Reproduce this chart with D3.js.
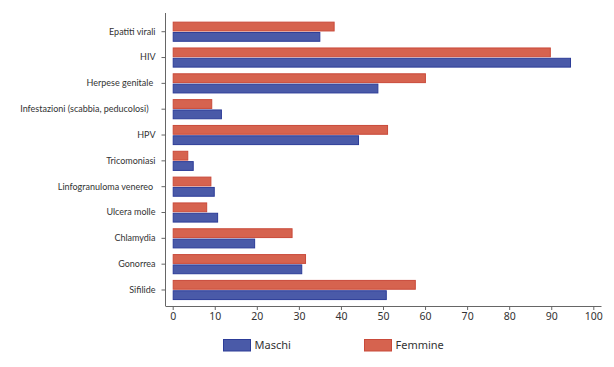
<!DOCTYPE html>
<html>
<head>
<meta charset="utf-8">
<script src="https://cdn.jsdelivr.net/npm/d3@7"></script>
<style>
  body { margin: 0; background: #fff; }
  svg text { font-family: "Noto Sans", sans-serif; fill: #333; }
</style>
</head>
<body>
<div id="chart"></div>
<script>
// Data
const categories = [
  "Epatiti virali",
  "HIV",
  "Herpese genitale\u00a0",
  "Infestazioni (scabbia, peducolosi)\u00a0\u00a0\u00a0",
  "HPV",
  "Tricomoniasi",
  "Linfogranuloma venereo\u00a0",
  "Ulcera molle",
  "Chlamydia",
  "Gonorrea",
  "Sifilide"
];
const maschi = [35.1, 94.7, 48.9, 11.7, 44.3, 5.0, 10.0, 10.8, 19.6, 30.8, 50.9];
const femmine = [38.5, 89.9, 60.2, 9.4, 51.2, 3.7, 9.2, 8.2, 28.5, 31.7, 57.8];
const xTicks = [0, 10, 20, 30, 40, 50, 60, 70, 80, 90, 100];
const seriesNames = ["Femmine", "Maschi"];

const width = 614;
const height = 367;

const colors = {
  Maschi: { fill: "#4a5aa8", stroke: "#2c3c98" },
  Femmine: { fill: "#d6634f", stroke: "#c94a3a" }
};

const svg = d3.select("#chart").append("svg")
  .attr("width", width)
  .attr("height", height);

// Scales
const xScale = d3.scaleLinear().domain([0, 100]).range([172.7, 593.3]);

const yScale = d3.scaleBand()
  .domain(categories)
  .range([18.8, 302.9])
  .paddingInner(0.22)
  .paddingOuter(0.11);

const subScale = d3.scaleBand()
  .domain(seriesNames)
  .range([0, yScale.bandwidth()])
  .paddingInner(0.05);

const rows = categories.map((c, i) => ({ cat: c, Maschi: maschi[i], Femmine: femmine[i] }));

// Bars
const groups = svg.selectAll("g.row")
  .data(rows)
  .enter()
  .append("g")
  .attr("class", "row")
  .attr("transform", (d) => `translate(0,${yScale(d.cat)})`);

groups.selectAll("rect")
  .data((d) => seriesNames.map((s) => ({ s, v: d[s] })))
  .enter()
  .append("rect")
  .attr("x", xScale(0) + 0.5)
  .attr("y", (d) => subScale(d.s) + 0.5)
  .attr("width", (d) => xScale(d.v) - xScale(0) - 1)
  .attr("height", subScale.bandwidth() - 1)
  .attr("fill", (d) => colors[d.s].fill)
  .attr("stroke", (d) => colors[d.s].stroke)
  .attr("stroke-width", 1);

// X axis
const xAxis = svg.append("g")
  .attr("transform", "translate(0,306)")
  .call(d3.axisBottom(xScale).tickValues(xTicks).tickSize(4).tickSizeOuter(0));
xAxis.select(".domain").attr("d", "M165.5,0.5H601.5");
xAxis.selectAll("line").attr("stroke", "#666");
xAxis.select(".domain").attr("stroke", "#666");
xAxis.selectAll("text")
  .attr("y", 7)
  .style("font-size", "10.5px")
  .attr("fill", "#333");

// Y axis
const yAxis = svg.append("g")
  .attr("transform", "translate(165.5,0)")
  .call(d3.axisLeft(yScale).tickSize(4).tickSizeOuter(0));
yAxis.select(".domain").attr("d", "M0,13V306").attr("stroke", "#666");
yAxis.selectAll("line").attr("stroke", "#666");
yAxis.selectAll("text")
  .attr("x", -10)
  .style("font-family", "Lato, sans-serif")
  .style("font-size", "9px")
  .style("white-space", "pre")
  .attr("fill", "#333");

// Legend
const legendItems = [
  { s: "Maschi", x: 223.5 },
  { s: "Femmine", x: 364.5 }
];
const legend = svg.selectAll("g.legend")
  .data(legendItems)
  .enter()
  .append("g")
  .attr("class", "legend")
  .attr("transform", (d) => `translate(${d.x},339.5)`);
legend.append("rect")
  .attr("width", 27)
  .attr("height", 11.5)
  .attr("fill", (d) => colors[d.s].fill)
  .attr("stroke", (d) => colors[d.s].stroke);
legend.append("text")
  .attr("x", 31)
  .attr("y", 6)
  .attr("dy", "0.35em")
  .style("font-size", "11px")
  .text((d) => d.s);
</script>
</body>
</html>
